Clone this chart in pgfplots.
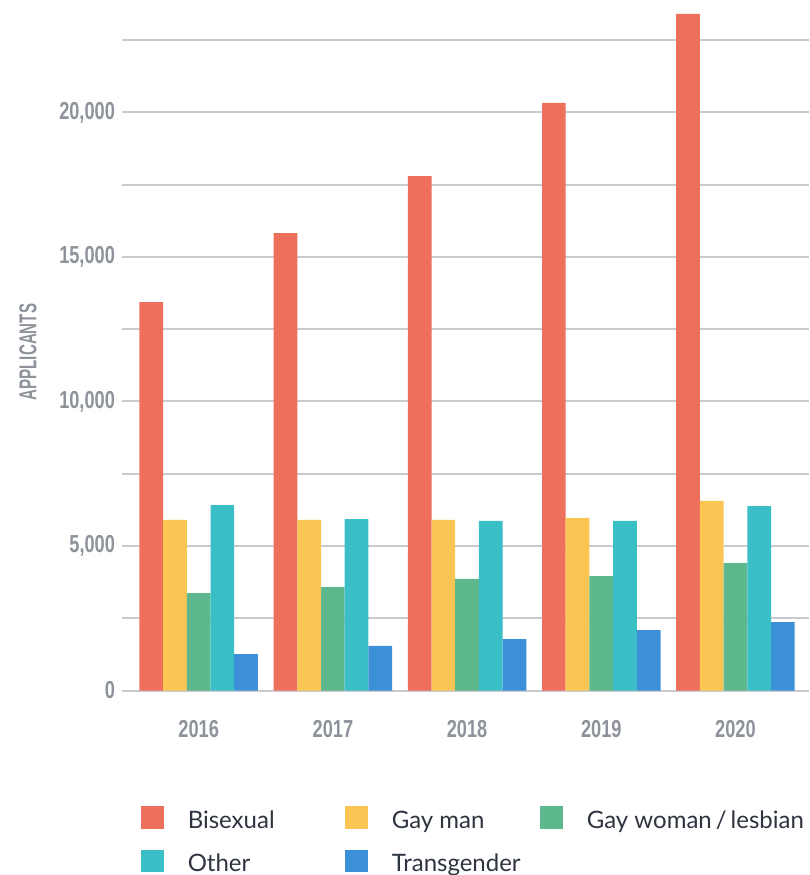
\documentclass[border=0pt]{standalone}
\usepackage{fontspec}
\usepackage{pgfplots}
\usepackage{pgfplotstable}
\pgfplotsset{compat=1.18}
\setmainfont{Lato}
\newfontfamily\condfont{Liberation Sans}[FakeStretch=0.74]
\newfontfamily\labelfont{Liberation Sans}[FakeStretch=0.62]

\definecolor{cBis}{HTML}{EE6F5C}
\definecolor{cGay}{HTML}{FAC552}
\definecolor{cLes}{HTML}{5DB88D}
\definecolor{cOth}{HTML}{3BBFC6}
\definecolor{cTra}{HTML}{3B90D7}
\definecolor{gridgray}{HTML}{C9CACF}
\definecolor{tickgray}{HTML}{8E939B}
\definecolor{legtext}{HTML}{2E3440}

% applicants by year (0 = 2016 ... 4 = 2020)
\pgfplotstableread{
x  bis    gay   les   oth   tra
0  13440  5900  3370  6410  1260
1  15830  5900  3580  5930  1540
2  17800  5900  3860  5870  1780
3  20330  5970  3960  5870  2090
4  23410  6560  4410  6380  2370
}\applicants

\begin{document}
\begin{tikzpicture}
\begin{axis}[
  scale only axis,
  width=343.5pt, height=345.25pt,
  xmin=-0.5715, xmax=4.548,
  ymin=0, ymax=23893,
  ybar=0pt, bar width=0.1766,
  axis line style={draw=none},
  major tick length=0pt, minor tick length=0pt,
  xtick=data,
  xticklabels={2016,2017,2018,2019,2020},
  ytick={0,5000,10000,15000,20000},
  minor ytick={2500,7500,12500,17500,22500},
  ymajorgrids, yminorgrids,
  major grid style={gridgray, line width=1pt},
  minor grid style={gridgray, line width=1pt},
  scaled y ticks=false,
  yticklabel style={/pgf/number format/.cd, 1000 sep={,}, assume math mode=true},
  yticklabel={\pgfmathprintnumber{\tick}},
  tick label style={font=\condfont\bfseries\fontsize{12.3}{14}\selectfont, text=tickgray},
  xticklabel style={yshift=-11.5pt},
  ylabel={APPLICANTS},
  every axis y label/.style={at={(axis description cs:0,0.49)}, xshift=-47pt, rotate=90, anchor=center, font=\labelfont\bfseries\fontsize{12.2}{14}\selectfont, text=tickgray},
  legend columns=3,
  legend image code/.code={\fill[#1] (0pt,-0.3pt) rectangle (11.2pt,11pt);},
  legend style={
    draw=none, fill=none, inner sep=0pt,
    at={(axis description cs:0,0)}, anchor=north west,
    xshift=9.5pt, yshift=-57.75pt,
    font=\fontsize{12}{14}\selectfont, text=legtext,
    nodes={inner sep=0pt, anchor=base west},
    row sep=9.2pt,
    /tikz/every odd column/.append style={column sep=12pt},
    /tikz/every even column/.append style={column sep=0pt},
  },
]
\addplot[fill=cBis, draw=none] table[x=x, y=bis] {\applicants};
\addlegendentry{\makebox[78.8pt][l]{Bisexual}}
\addplot[fill=cGay, draw=none] table[x=x, y=gay] {\applicants};
\addlegendentry{\makebox[74.3pt][l]{Gay man}}
\addplot[fill=cLes, draw=none] table[x=x, y=les] {\applicants};
\addlegendentry{Gay woman\,/\,lesbian}
\addplot[fill=cOth, draw=none] table[x=x, y=oth] {\applicants};
\addlegendentry{\makebox[78.8pt][l]{Other}}
\addplot[fill=cTra, draw=none] table[x=x, y=tra] {\applicants};
\addlegendentry{\makebox[74.3pt][l]{Transgender}}
\end{axis}
\pgfresetboundingbox
\path (current axis.south west) ++(-61pt,-92.25pt) rectangle (current axis.north east);
\end{tikzpicture}
\end{document}
